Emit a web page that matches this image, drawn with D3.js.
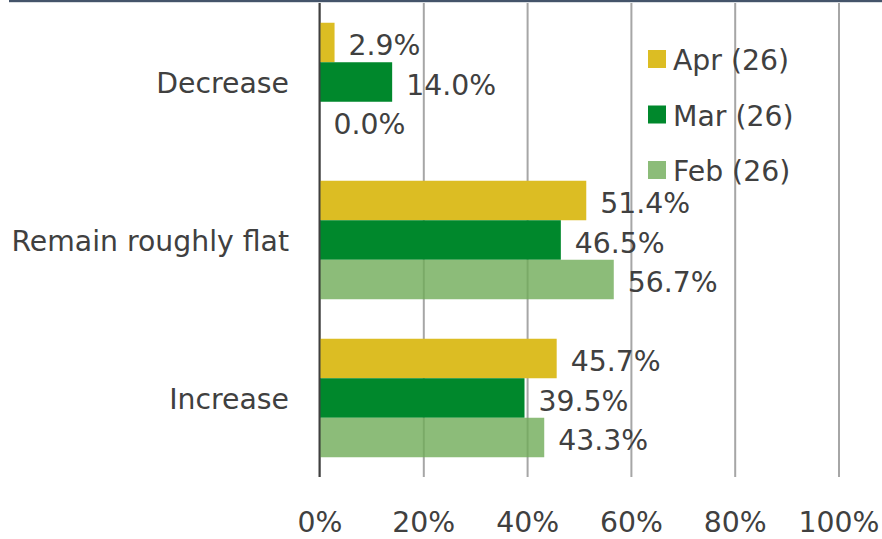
<!DOCTYPE html>
<html>
<head>
<meta charset="utf-8">
<script src="https://cdn.jsdelivr.net/npm/d3@7"></script>
<style>
  html, body { margin: 0; padding: 0; background: #fff; }
  svg { display: block; }
  text { font-family: "DejaVu Sans", Verdana, sans-serif; fill: #404040; }
</style>
</head>
<body>
<script>
const categories = ["Decrease", "Remain roughly flat", "Increase"];
const seriesNames = ["Apr (26)", "Mar (26)", "Feb (26)"];
const aprValues = [2.9, 51.4, 45.7];
const marValues = [14.0, 46.5, 39.5];
const febValues = [0.0, 56.7, 43.3];
const tickValues = [0, 20, 40, 60, 80, 100];

const seriesValues = [aprValues, marValues, febValues];
const colors = ["#dcbd23", "#00882c", "#6fab58"];
const opac = [1, 1, 0.8];

const W = 882, H = 539;
const fs = 28.3;
const svg = d3.select("body").append("svg").attr("width", W).attr("height", H);

const plotTop = 3, plotBottom = 477;
const x = d3.scaleLinear().domain([0, 100]).range([319.5, 838.5]);
const y = d3.scaleBand().domain(categories).range([plotTop, plotBottom]).paddingInner(0.25).paddingOuter(0.125);
const ySub = d3.scaleBand().domain(seriesNames).range([0, y.bandwidth()]);

// top border line
svg.append("rect").attr("x", 9).attr("y", 0).attr("width", W - 9).attr("height", 2.2).attr("fill", "#44546a");

// gridlines + tick labels via axis
const xAxis = d3.axisBottom(x).tickValues(tickValues).tickFormat(d => d + "%").tickSize(plotBottom - plotTop).tickPadding(0);
const gx = svg.append("g").attr("transform", `translate(0,${plotTop})`).call(xAxis);
gx.select(".domain").remove();
gx.selectAll(".tick line").attr("stroke", "#a6a6a6").attr("stroke-width", 2);
gx.selectAll(".tick text")
  .attr("y", 532 - plotTop).attr("dy", 0)
  .style("font-size", fs + "px")
  .style("font-family", '"DejaVu Sans", Verdana, sans-serif')
  .attr("fill", "#404040");

// bars
const groups = svg.append("g").selectAll("g").data(categories).join("g")
  .attr("transform", d => `translate(0,${y(d)})`);

seriesNames.forEach((s, si) => {
  groups.append("rect")
    .attr("x", x(0))
    .attr("y", ySub(s))
    .attr("width", (d, i) => x(seriesValues[si][i]) - x(0))
    .attr("height", ySub.bandwidth())
    .attr("fill", colors[si])
    .attr("fill-opacity", opac[si]);
  groups.append("text")
    .attr("x", (d, i) => x(seriesValues[si][i]) + 14)
    .attr("y", ySub(s) + ySub.bandwidth() / 2)
    .attr("dy", "0.45em")
    .style("font-size", fs + "px")
    .text((d, i) => seriesValues[si][i].toFixed(1) + "%");
});

// y axis line
svg.append("line").attr("x1", x(0)).attr("x2", x(0)).attr("y1", plotTop).attr("y2", plotBottom)
  .attr("stroke", "#404040").attr("stroke-width", 2);

// category labels
svg.append("g").selectAll("text").data(categories).join("text")
  .attr("x", 289)
  .attr("y", d => y(d) + y.bandwidth() / 2)
  .attr("dy", "0.38em")
  .attr("text-anchor", "end")
  .style("font-size", fs + "px")
  .text(d => d);

// legend
const lg = svg.append("g").selectAll("g").data(seriesNames).join("g")
  .attr("transform", (d, i) => `translate(648,${50 + i * 55.5})`);
lg.append("rect").attr("width", 18).attr("height", 18)
  .attr("fill", (d, i) => colors[i]).attr("fill-opacity", (d, i) => opac[i]);
lg.append("text").attr("x", 25).attr("y", 20).style("font-size", fs + "px").text(d => d);
</script>
</body>
</html>
